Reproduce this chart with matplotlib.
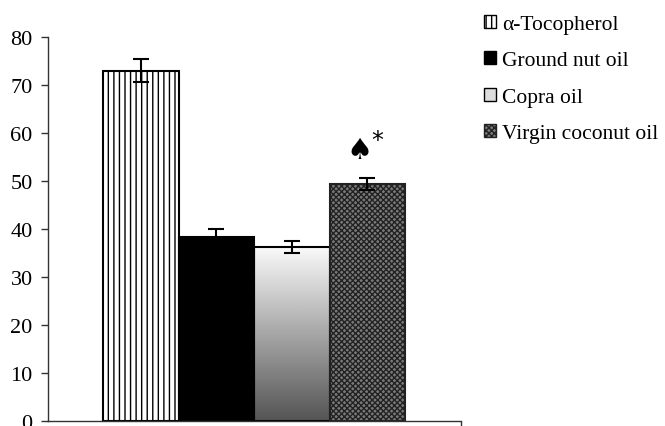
import numpy as np
import matplotlib as mpl
import matplotlib.pyplot as plt
from matplotlib.patches import Patch

categories = ['α-Tocopherol', 'Ground nut oil', 'Copra oil', 'Virgin coconut oil']
values = [73.0, 38.3, 36.3, 49.4]
errors = [2.4, 1.6, 1.3, 1.2]
yticks = [0, 10, 20, 30, 40, 50, 60, 70, 80]

mpl.rcParams['font.family'] = ['Liberation Serif', 'DejaVu Serif']
mpl.rcParams['font.size'] = 16
mpl.rcParams['hatch.linewidth'] = 1.0

fig = plt.figure(figsize=(6.65, 4.27), dpi=100)
ax = fig.add_axes([48 / 665, 5 / 427, 413 / 665, 384 / 427])

x = np.arange(len(categories))
faces = ['white', 'black', 'none', '#7a7a7a']
hatches = ['|||', None, None, 'xxxxxx']
bars = ax.bar(x, values, width=1.0, color=faces, edgecolor='black', linewidth=1.5, zorder=2)
for b, h in zip(bars, hatches):
    if h:
        b.set_hatch(h)
bars[3].set_edgecolor('#222222')

# gradient fill for copra oil bar
grad = np.linspace(0.98, 0.33, 256).reshape(-1, 1)
b = bars[2]
im = ax.imshow(grad, extent=[b.get_x(), b.get_x() + b.get_width(), 0, b.get_height()],
               cmap='gray', vmin=0, vmax=1, aspect='auto', origin='upper', zorder=1.5)
im.set_clip_path(b)

ax.errorbar(x, values, yerr=errors, fmt='none', ecolor='black', elinewidth=1.5,
            capsize=5.5, capthick=1.5, zorder=3)

ax.text(x[3] - 0.1, values[3] + 7.0, '♠', ha='center', va='center', fontsize=21,
        family=['DejaVu Sans'])
ax.text(x[3] + 0.13, values[3] + 9.2, '*', ha='center', va='center', fontsize=17,
        family=['DejaVu Sans'])

ax.set_xlim(-1.228, 4.24)
ax.set_ylim(0, 80)
ax.set_yticks(yticks)
ax.set_xticks([4.24])
ax.set_xticklabels([])
ax.tick_params(axis='both', direction='out', length=5, width=1, colors='#333333',
               labelcolor='black', pad=6)
for s in ['top', 'right']:
    ax.spines[s].set_visible(False)
for s in ['left', 'bottom']:
    ax.spines[s].set_color('#333333')
    ax.spines[s].set_linewidth(1.0)

handles = [
    Patch(facecolor='white', edgecolor='black', hatch='|||', label=categories[0]),
    Patch(facecolor='black', edgecolor='black', label=categories[1]),
    Patch(facecolor='#dddddd', edgecolor='black', label=categories[2]),
    Patch(facecolor='#7a7a7a', edgecolor='#222222', hatch='xxxxxx', label=categories[3]),
]
fig.legend(handles=handles, loc='upper left', bbox_to_anchor=(484 / 665, 1 - 16 / 427),
           frameon=False, handlelength=0.55, handleheight=0.55, handletextpad=0.3,
           labelspacing=0.8, borderaxespad=0, borderpad=0, fontsize=15.5)

fig.savefig('out.png', dpi=100)
